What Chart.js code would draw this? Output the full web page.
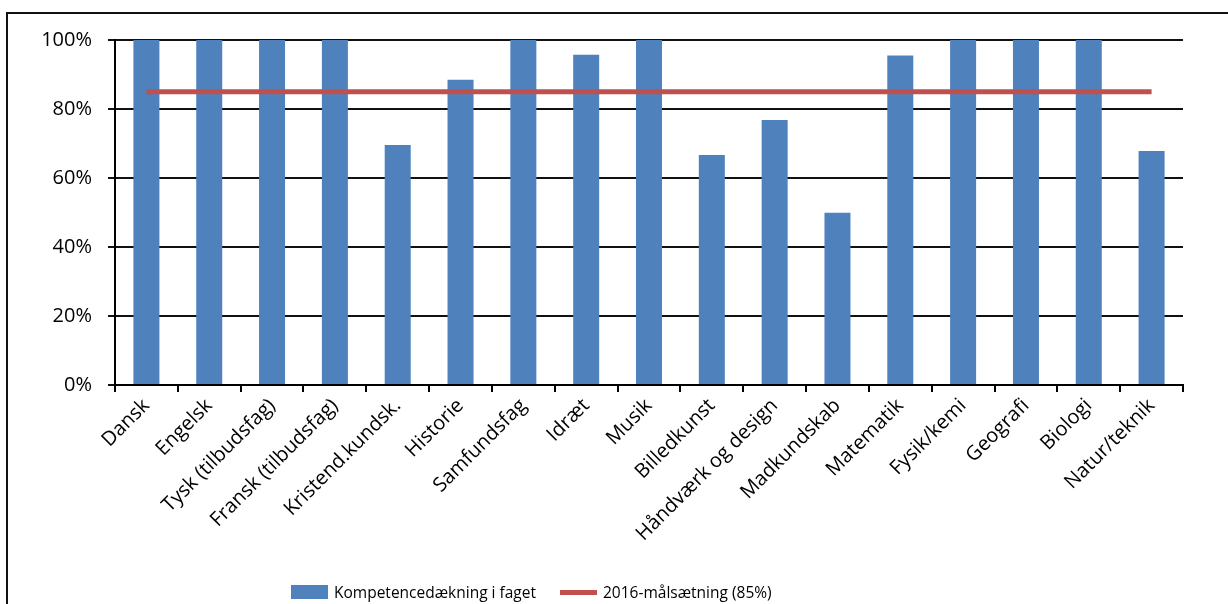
<!DOCTYPE html>
<html lang="da">
<head>
<meta charset="utf-8">
<title>Kompetencedækning</title>
<script src="https://cdn.jsdelivr.net/npm/chart.js@4.4.1/dist/chart.umd.min.js"></script>
<style>
  html, body { margin: 0; padding: 0; background: #fff; }
  body { width: 1228px; height: 604px; overflow: hidden; position: relative; font-family: "Open Sans", sans-serif; }
  #frame { position: absolute; left: 6px; top: 12px; width: 1400px; height: 800px; border: 2px solid #111; box-sizing: border-box; }
  #chart { position: absolute; left: 0; top: 0; }
  #legend { position: absolute; left: 291px; top: 580px; height: 24px; display: flex; align-items: center; font-size: 15.5px; color: #000; white-space: nowrap; }
  .item { display: flex; align-items: center; }
  .swatch { width: 37px; display: inline-block; margin-right: 6px; }
  .gap { width: 24px; }
</style>
</head>
<body>
<div id="frame"></div>
<canvas id="chart" width="1228" height="604"></canvas>
<div id="legend"></div>
<script>
// Subjects on the x axis
const subjects = [
  'Dansk', 'Engelsk', 'Tysk (tilbudsfag)', 'Fransk (tilbudsfag)', 'Kristend.kundsk.',
  'Historie', 'Samfundsfag', 'Idræt', 'Musik', 'Billedkunst', 'Håndværk og design',
  'Madkundskab', 'Matematik', 'Fysik/kemi', 'Geografi', 'Biologi', 'Natur/teknik'
];
// Share of lessons taught by teachers with competence in the subject (%)
const coverage = [100, 100, 100, 100, 69.6, 88.5, 100, 95.7, 100, 66.7, 76.8, 49.9, 95.5, 100, 100, 100, 67.8];
// 2016 goal: 85 % for every subject
const target2016 = [85, 85, 85, 85, 85, 85, 85, 85, 85, 85, 85, 85, 85, 85, 85, 85, 85];
// Y axis ticks
const yTicks = [0, 20, 40, 60, 80, 100];

const seriesNames = ['Kompetencedækning i faget', '2016-målsætning (85%)'];
const barColor = '#4F81BD';
const lineColor = '#C0504D';

const FONT = '"Open Sans", sans-serif';

const plotLeft = 115, plotTop = 40, plotRight = 1183, plotBottom = 385;

const chart = new Chart(document.getElementById('chart'), {
  type: 'bar',
  data: {
    labels: subjects,
    datasets: [
      {
        type: 'bar',
        label: seriesNames[0],
        data: coverage,
        backgroundColor: barColor,
        borderWidth: 0,
        categoryPercentage: 1,
        barPercentage: 0.414,
        order: 2
      },
      {
        type: 'line',
        label: seriesNames[1],
        data: target2016,
        borderColor: lineColor,
        backgroundColor: lineColor,
        borderWidth: 5,
        pointRadius: 0,
        pointHoverRadius: 0,
        fill: false,
        tension: 0,
        order: 1
      }
    ]
  },
  options: {
    responsive: false,
    devicePixelRatio: 1,
    animation: false,
    events: [],
    layout: { padding: { left: 0, top: plotTop, right: 1228 - plotRight, bottom: 0 } },
    plugins: {
      legend: { display: false },
      tooltip: { enabled: false },
      title: { display: false }
    },
    scales: {
      x: {
        offset: true,
        afterFit(scale) { scale.height = 604 - plotBottom; },
        grid: {
          display: true,
          offset: true,
          drawOnChartArea: false,
          drawTicks: true,
          tickLength: 7,
          color: '#000',
          lineWidth: 2
        },
        border: { display: true, color: '#000', width: 2 },
        ticks: {
          autoSkip: false,
          minRotation: 45,
          maxRotation: 45,
          padding: 2,
          color: '#000',
          font: { family: FONT, size: 20 }
        }
      },
      y: {
        min: 0,
        max: 100,
        afterFit(scale) { scale.width = plotLeft; },
        afterBuildTicks(scale) { scale.ticks = yTicks.map(v => ({ value: v })); },
        grid: {
          color: '#111',
          lineWidth: 2,
          drawTicks: true,
          tickLength: 7
        },
        border: { display: true, color: '#000', width: 2 },
        ticks: {
          padding: 16,
          color: '#000',
          font: { family: FONT, size: 20 },
          callback: v => v + '%'
        }
      }
    }
  }
});

// Legend below the plot, built from the chart's datasets
const legendEl = document.getElementById('legend');
chart.data.datasets.forEach((ds, i) => {
  if (i > 0) {
    const g = document.createElement('span');
    g.className = 'gap';
    legendEl.appendChild(g);
  }
  const item = document.createElement('span');
  item.className = 'item';
  const sw = document.createElement('span');
  sw.className = 'swatch';
  if (ds.type === 'line') {
    sw.style.height = ds.borderWidth + 'px';
    sw.style.background = ds.borderColor;
  } else {
    sw.style.height = '14px';
    sw.style.background = ds.backgroundColor;
  }
  const txt = document.createElement('span');
  txt.textContent = ds.label;
  item.appendChild(sw);
  item.appendChild(txt);
  legendEl.appendChild(item);
});
</script>
</body>
</html>
